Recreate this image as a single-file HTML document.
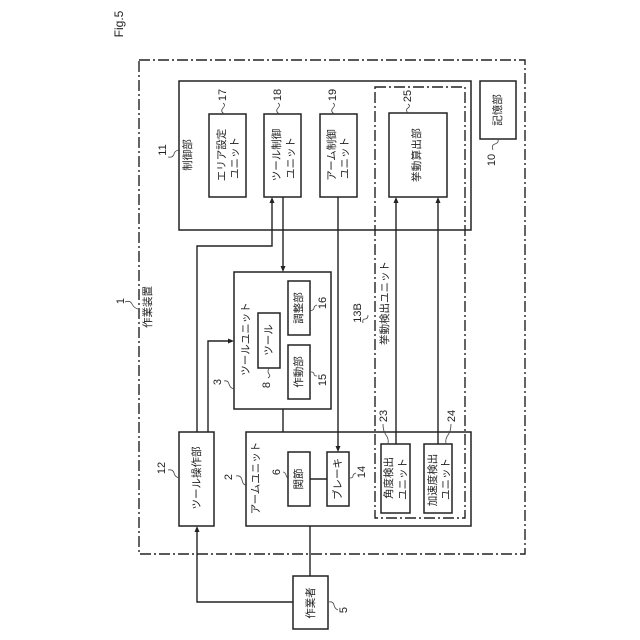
<!DOCTYPE html>
<html lang="ja"><head><meta charset="utf-8"><title>Fig.5</title>
<style>
html,body{margin:0;padding:0;background:#fff}
svg{display:block}
text{font-family:"Liberation Sans","Noto Sans CJK JP",sans-serif;font-size:10.5px;fill:#222;text-anchor:middle;dominant-baseline:central}
.n{font-size:11px}
.box{fill:none;stroke:#222;stroke-width:1.5}
.l{fill:none;stroke:#222;stroke-width:1.4}
.d{fill:none;stroke:#222;stroke-width:1.4;stroke-dasharray:11 3 2 3}
.q{fill:none;stroke:#444;stroke-width:.8}
</style></head><body>
<svg width="640" height="640" viewBox="0 0 640 640" xmlns="http://www.w3.org/2000/svg">
<rect class="d" x="139" y="60" width="386" height="494"/>
<rect class="d" x="375" y="87" width="90" height="431"/>
<rect class="box" x="179" y="81" width="292" height="149"/>
<rect class="box" x="209" y="114" width="37" height="83"/>
<rect class="box" x="264" y="114" width="37" height="83"/>
<rect class="box" x="320" y="114" width="37" height="83"/>
<rect class="box" x="389" y="113" width="58" height="84"/>
<rect class="box" x="480" y="81" width="36" height="58"/>
<rect class="box" x="234" y="272" width="97" height="137"/>
<rect class="box" x="288" y="281" width="22" height="54"/>
<rect class="box" x="288" y="345" width="22" height="54"/>
<rect class="box" x="258" y="313" width="22" height="55"/>
<rect class="box" x="179" y="432" width="35" height="94"/>
<rect class="box" x="246" y="432" width="225" height="94"/>
<rect class="box" x="288" y="452" width="22" height="54"/>
<rect class="box" x="327" y="452" width="22" height="54"/>
<rect class="box" x="381" y="444" width="29" height="69"/>
<rect class="box" x="424" y="444" width="28" height="69"/>
<rect class="box" x="293" y="576" width="35" height="53"/>

<path class="l" d="M197 432V246H272V203"/>
<path d="M272 197l-2.500 6h5z" fill="#222"/>
<path class="l" d="M208 432V341H228"/>
<path d="M234 341l-6-2.500v5z" fill="#222"/>
<path class="l" d="M283 197V266"/>
<path d="M283 272l-2.500-6h5z" fill="#222"/>
<path class="l" d="M338 197V446"/>
<path d="M338 452l-2.500-6h5z" fill="#222"/>
<path class="l" d="M283 409V432"/>
<path class="l" d="M396 444V203"/>
<path d="M396 197l-2.500 6h5z" fill="#222"/>
<path class="l" d="M438 444V203"/>
<path d="M438 197l-2.500 6h5z" fill="#222"/>
<path class="l" d="M310 479H327"/>
<path class="l" d="M310 526V576"/>
<path class="l" d="M293 602H197V532"/>
<path d="M197 526l-2.500 6h5z" fill="#222"/>

<path class="q" d="M125 302q5-2 7 2t6 5"/>
<path class="q" d="M168 157q5 1 6-3t6-4"/>
<path class="q" d="M224 114q-4-3-1-6t0-5"/>
<path class="q" d="M279 114q-4-3-1-6t0-5"/>
<path class="q" d="M334 114q-4-3-1-6t0-5"/>
<path class="q" d="M408 113q-3-3 0-5t0-4"/>
<path class="q" d="M498 139q1 4-3 5t-2 6"/>
<path class="q" d="M224 381q4-1 5 3t5 5"/>
<path class="q" d="M310 311q4-1 4-3t3-3"/>
<path class="q" d="M311 372q3 0 3 2t3 2"/>
<path class="q" d="M269 368q-2 4 0 6t-1 4"/>
<path class="q" d="M168 470q5-1 6 3t5 5"/>
<path class="q" d="M236 476q5-1 6 4t4 5"/>
<path class="q" d="M283 472q2 0 3 3t2 3"/>
<path class="q" d="M350 478q3 0 3-2t3-3"/>
<path class="q" d="M388 444q1-5-2-9t-3-11"/>
<path class="q" d="M446 444q-1-5 2-9t3-11"/>
<path class="q" d="M368 315q0 4-3 4t-2 4"/>
<path class="q" d="M329 602q4-1 5 3t4 5"/>

<text class="n" style="font-size:12px" transform="translate(119,24) rotate(-90)">Fig.5</text>
<text class="n" transform="translate(121,301) rotate(-90)">1</text>
<text transform="translate(148,307) rotate(-90)">作業装置</text>
<text transform="translate(188,155) rotate(-90)">制御部</text>
<text class="n" transform="translate(163,150) rotate(-90)">11</text>
<text class="n" transform="translate(223,95) rotate(-90)">17</text>
<text class="n" transform="translate(278,95) rotate(-90)">18</text>
<text class="n" transform="translate(333,95) rotate(-90)">19</text>
<text class="n" transform="translate(408,96) rotate(-90)">25</text>
<text transform="translate(222,155) rotate(-90)">エリア設定</text>
<text transform="translate(235,158) rotate(-90)">ユニット</text>
<text transform="translate(277,155) rotate(-90)">ツール制御</text>
<text transform="translate(291,158) rotate(-90)">ユニット</text>
<text transform="translate(332,155) rotate(-90)">アーム制御</text>
<text transform="translate(345,158) rotate(-90)">ユニット</text>
<text style="letter-spacing:.3px" transform="translate(417,155) rotate(-90)">挙動算出部</text>
<text transform="translate(498,110) rotate(-90)">記憶部</text>
<text class="n" transform="translate(492,160) rotate(-90)">10</text>
<text transform="translate(246,339) rotate(-90)">ツールユニット</text>
<text transform="translate(269,340) rotate(-90)">ツール</text>
<text transform="translate(299,308) rotate(-90)">調整部</text>
<text transform="translate(299,372) rotate(-90)">作動部</text>
<text class="n" transform="translate(218,382) rotate(-90)">3</text>
<text class="n" transform="translate(323,303) rotate(-90)">16</text>
<text class="n" transform="translate(323,380) rotate(-90)">15</text>
<text class="n" transform="translate(267,385) rotate(-90)">8</text>
<text transform="translate(197,478) rotate(-90)">ツール操作部</text>
<text class="n" transform="translate(162,468) rotate(-90)">12</text>
<text transform="translate(256,478) rotate(-90)">アームユニット</text>
<text class="n" transform="translate(229,477) rotate(-90)">2</text>
<text transform="translate(299,479) rotate(-90)">関節</text>
<text class="n" transform="translate(277,472) rotate(-90)">6</text>
<text transform="translate(338,479) rotate(-90)">ブレーキ</text>
<text class="n" transform="translate(362,472) rotate(-90)">14</text>
<text transform="translate(389,478) rotate(-90)">角度検出</text>
<text transform="translate(403,479) rotate(-90)">ユニット</text>
<text transform="translate(433,480) rotate(-90)">加速度検出</text>
<text transform="translate(446,479) rotate(-90)">ユニット</text>
<text class="n" transform="translate(384,416) rotate(-90)">23</text>
<text class="n" transform="translate(452,416) rotate(-90)">24</text>
<text class="n" transform="translate(358,313) rotate(-90)">13B</text>
<text transform="translate(385,303) rotate(-90)">挙動検出ユニット</text>
<text transform="translate(311,603) rotate(-90)">作業者</text>
<text class="n" transform="translate(344,610) rotate(-90)">5</text>
</svg>
</body></html>
